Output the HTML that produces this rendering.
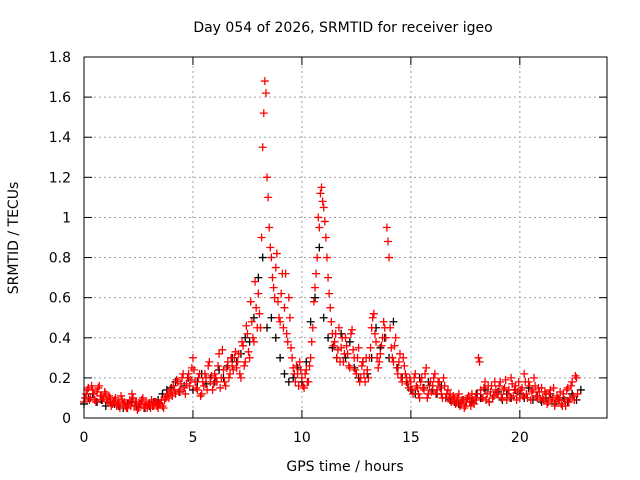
<!DOCTYPE html>
<html><head><meta charset="utf-8"><style>
body{margin:0;background:#fff}
svg{display:block;font-family:"DejaVu Sans","Liberation Sans",sans-serif;font-size:14px}
</style></head><body>
<svg id="chart" width="640" height="480">
<text x="343" y="32" text-anchor="middle">Day 054 of 2026, SRMTID for receiver igeo</text>
<text transform="translate(18,238) rotate(-90)" text-anchor="middle">SRMTID / TECUs</text>
<text x="345" y="471" text-anchor="middle">GPS time / hours</text>
<g id="grid"></g>
<g id="axes"></g>
<g id="black"></g>
<g id="red"></g>
<g id="red2"></g>
<rect x="84" y="57" width="523" height="361" fill="none" stroke="#000"/>
</svg>
<script>
const xTicks=[0,5,10,15,20];
const yTicks=[0,0.2,0.4,0.6,0.8,1,1.2,1.4,1.6,1.8];
const yTickLabels=["0","0.2","0.4","0.6","0.8","1","1.2","1.4","1.6","1.8"];
const redStep=0.1;
const redValues=[
.08,.12,.15,.10,.14,.09,.13,.16,.11,.10,
.12,.08,.10,.07,.09,.06,.08,.11,.07,.06,
.05,.09,.12,.06,.08,.05,.07,.10,.06,.05,
.07,.09,.06,.08,.05,.07,.06,.09,.11,.10,
.13,.16,.12,.18,.14,.20,.15,.17,.22,.19,
.30,.18,.14,.22,.12,.16,.20,.26,.18,.14,
.22,.18,.32,.20,.24,.16,.28,.22,.26,.30,
.25,.32,.20,.36,.28,.42,.30,.48,.38,.55,
.62,.45,1.35,1.68,1.20,.95,.80,.65,.75,.58,
.48,.72,.55,.42,.60,.35,.25,.18,.22,.28,
.20,.15,.24,.18,.30,.45,.65,.80,.95,1.15,
1.05,.90,.70,.55,.42,.38,.30,.45,.35,.28,
.40,.32,.25,.44,.30,.22,.35,.20,.28,.18,
.24,.30,.45,.52,.38,.25,.32,.40,.45,.95,
.80,.35,.28,.40,.22,.32,.18,.26,.20,.15,
.18,.12,.22,.15,.10,.20,.14,.25,.12,.18,
.16,.22,.14,.18,.12,.20,.10,.14,.12,.09,
.10,.08,.12,.07,.09,.06,.10,.08,.12,.07,
.09,.30,.14,.10,.18,.12,.08,.16,.11,.14,
.12,.18,.10,.15,.09,.14,.20,.11,.16,.13,
.10,.15,.22,.12,.18,.09,.14,.16,.10,.13,
.15,.09,.12,.08,.14,.10,.06,.11,.09,.07,
.12,.06,.15,.10,.18,.09,.20];
const red2Offset=0.05;
const red2Values=[
.10,.14,.09,.16,.12,.08,.15,.11,.09,.13,
.09,.11,.06,.08,.10,.07,.05,.09,.08,.05,
.07,.06,.10,.08,.04,.07,.09,.05,.08,.07,
.05,.06,.08,.06,.07,.09,.05,.10,.12,.14,
.11,.14,.19,.13,.17,.22,.12,.20,.16,.25,
.24,.15,.20,.11,.18,.22,.14,.28,.21,.17,
.20,.26,.15,.34,.18,.25,.20,.30,.24,.33,
.28,.22,.38,.26,.46,.33,.58,.40,.68,.45,
.52,.90,1.52,1.62,1.10,.85,.70,.60,.82,.50,
.62,.45,.72,.38,.50,.30,.22,.26,.16,.24,
.16,.22,.18,.26,.38,.58,.72,1.00,1.12,1.08,
.98,.80,.62,.48,.36,.42,.34,.28,.40,.32,
.36,.26,.42,.34,.24,.30,.18,.26,.22,.30,
.20,.35,.50,.42,.30,.28,.36,.48,.40,.88,
.45,.30,.36,.25,.28,.20,.30,.22,.17,.20,
.14,.20,.16,.12,.18,.15,.22,.10,.16,.13,
.20,.12,.18,.15,.10,.16,.12,.10,.08,.11,
.07,.10,.06,.09,.05,.08,.11,.06,.09,.10,
.12,.28,.10,.15,.09,.16,.13,.10,.18,.12,
.16,.10,.14,.19,.12,.10,.17,.14,.09,.18,
.14,.11,.18,.10,.16,.13,.20,.11,.15,.09,
.10,.13,.07,.12,.09,.15,.08,.10,.13,.06,
.09,.14,.08,.16,.11,.21,.12];
const blackStep=0.2;
const blackValues=[
.07,.10,.12,.08,.09,.06,.08,.07,.06,.05,
.07,.08,.06,.07,.05,.06,.08,.09,.12,.14,
.15,.18,.13,.16,.20,.14,.18,.22,.17,.20,
.18,.24,.20,.26,.30,.28,.32,.40,.38,.50,
.70,.80,.45,.50,.40,.30,.22,.18,.20,.25,
.18,.28,.48,.60,.85,.50,.40,.35,.30,.42,
.30,.38,.25,.20,.28,.22,.30,.45,.35,.40,
.30,.48,.25,.20,.18,.14,.12,.20,.15,.18,
.14,.12,.16,.10,.09,.08,.07,.09,.10,.08,
.12,.10,.14,.08,.11,.13,.09,.12,.10,.14,
.12,.10,.15,.09,.11,.08,.10,.12,.07,.09,
.10,.08,.12,.09,.14];
const NS="http://www.w3.org/2000/svg";
const X0=84,X1=607,Y0=418,Y1=57,XMAX=24,YMAX=1.8;
function sx(v){return X0+(X1-X0)*v/XMAX;}
function sy(v){return Y0-(Y0-Y1)*v/YMAX;}
function mk(tag,parent,attrs){const e=document.createElementNS(NS,tag);for(const k in attrs)e.setAttribute(k,attrs[k]);parent.appendChild(e);return e;}
const grid=document.getElementById('grid'),axes=document.getElementById('axes');
yTicks.forEach((t,i)=>{
  const y=sy(t);
  if(i>0&&i<yTicks.length-1){const g=mk('line',grid,{x1:X0,x2:X1,y1:y,y2:y,stroke:'#a0a0a0','stroke-dasharray':'2,3'});
  
  }
  mk('line',axes,{x1:X0,x2:X0+8,y1:y,y2:y,stroke:'#000'});
  mk('line',axes,{x1:X1,x2:X1-8,y1:y,y2:y,stroke:'#000'});
  const tx=mk('text',axes,{x:X0-13,y:y+5,'text-anchor':'end'});tx.textContent=yTickLabels[i];
  
  
});
xTicks.forEach(t=>{
  const x=sx(t);
  if(t>0){const g=mk('line',grid,{x1:x,x2:x,y1:Y0,y2:Y1,stroke:'#a0a0a0','stroke-dasharray':'2,3'});
  
  }
  mk('line',axes,{x1:x,x2:x,y1:Y0,y2:Y0-8,stroke:'#000'});
  mk('line',axes,{x1:x,x2:x,y1:Y1,y2:Y1+8,stroke:'#000'});
  const tx=mk('text',axes,{x:x,y:Y0+24,'text-anchor':'middle'});tx.textContent=String(t);
  
  
});
function plot(gid,vals,step,offset,color){
  const g=document.getElementById(gid);let d='';
  vals.forEach((v,i)=>{const x=sx(offset+i*step),y=sy(v);d+=`M${x-4},${y}h8M${x},${y-4}v8`;});
  const p=mk('path',g,{d:d,stroke:color,'stroke-width':1.3,fill:'none'});
  
  
}
plot('black',blackValues,blackStep,0,'#000');
plot('red',redValues,redStep,0,'#ff0000');
plot('red2',red2Values,redStep,red2Offset,'#ff0000');
</script>
</body></html>
